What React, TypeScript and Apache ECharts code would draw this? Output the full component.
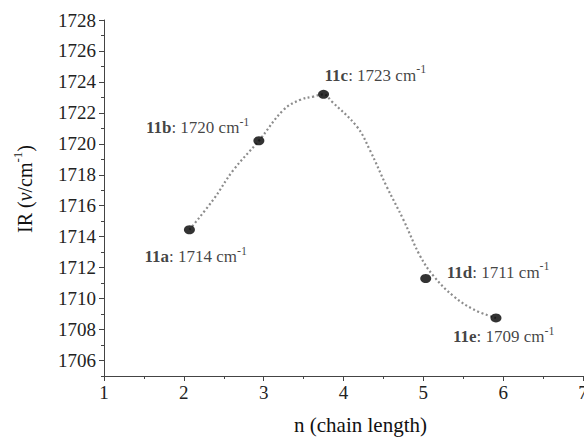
import React, { useEffect, useRef } from "react";
import * as echarts from "echarts";

// Measured compounds
const compounds = ["11a", "11b", "11c", "11d", "11e"];
const chainLength = [2.07, 2.94, 3.75, 5.03, 5.91];
const irPosition = [1714.45, 1720.2, 1723.2, 1711.3, 1708.75];
const irLabel = [1714, 1720, 1723, 1711, 1709];

// Dotted guide curve
const curveX = [2.07, 2.37, 2.62, 2.94, 3.25, 3.46, 3.62, 3.75, 3.85, 4.17, 4.33, 4.54, 4.75, 4.96, 5.13, 5.38, 5.63, 5.91];
const curveY = [1714.45, 1716.4, 1718.3, 1720.2, 1722.2, 1722.85, 1723.05, 1723.2, 1722.75, 1721.1, 1719.6, 1717.25, 1715.1, 1712.75, 1711.45, 1710.15, 1709.3, 1708.75];

// Axis ticks
const yTickLabels = [1706, 1708, 1710, 1712, 1714, 1716, 1718, 1720, 1722, 1724, 1726, 1728];

// Label placement (pixels relative to point)
const labelOffsets: [number, number][] = [
  [-45, 27],
  [-113, -13],
  [1, -19],
  [21, -6],
  [-43, 19],
];

const FONT = "Liberation Serif";

export default function App() {
  const ref = useRef<HTMLDivElement>(null);
  useEffect(() => {
    if (!ref.current) return;
    const chart = echarts.init(ref.current, undefined, { renderer: "svg" });
    const richLabel = {
      b: { fontFamily: FONT, fontSize: 17, fontWeight: "bold", color: "#111", lineHeight: 24 },
      t: { fontFamily: FONT, fontSize: 17, color: "#111", lineHeight: 24 },
      s: { fontFamily: FONT, fontSize: 12, color: "#111", lineHeight: 12, verticalAlign: "top" },
    };
    const points = compounds.map((c, i) => ({
      name: c,
      value: [chainLength[i], irPosition[i]],
      label: {
        show: true,
        position: "inside",
        align: "left",
        verticalAlign: "middle",
        offset: labelOffsets[i],
        fontFamily: FONT,
        formatter: `{b|${c}}{t|: ${irLabel[i]} cm}{s|-1}`,
        rich: richLabel,
      },
    }));
    chart.setOption({
      animation: false,
      backgroundColor: "#ffffff",
      textStyle: { fontFamily: FONT },
      grid: { left: 104, right: 1, top: 20, bottom: 61, containLabel: false, outerBoundsMode: "none" },
      xAxis: {
        type: "value",
        min: 1,
        max: 7,
        interval: 1,
        name: "n (chain length)",
        nameLocation: "middle",
        nameGap: 38,
        nameTextStyle: { fontFamily: FONT, fontSize: 21, color: "#111", padding: [0, 0, 0, 34] },
        axisLine: { show: true, lineStyle: { color: "#444", width: 1 } },
        axisTick: { show: true, inside: false, length: 5, lineStyle: { color: "#444" } },
        minorTick: { show: true, splitNumber: 2, length: 3, lineStyle: { color: "#444" } },
        axisLabel: { fontFamily: FONT, fontSize: 19, color: "#222", margin: 7, formatter: (v: number) => String(v) },
        splitLine: { show: false },
      },
      yAxis: [
        {
          type: "value",
          position: "left",
          min: 1705,
          max: 1728,
          interval: 1,
          name: "{t|IR (}{i|v}{t|/cm}{s|-1}{t|)}",
          nameLocation: "middle",
          nameGap: 65,
          nameTextStyle: {
            fontFamily: FONT,
            padding: [0, 0, 0, 18],
            rich: {
              t: { fontFamily: FONT, fontSize: 20, color: "#111", lineHeight: 28 },
              i: { fontFamily: FONT, fontSize: 20, fontStyle: "italic", color: "#111", lineHeight: 28 },
              s: { fontFamily: FONT, fontSize: 13, color: "#111", lineHeight: 13, verticalAlign: "top" },
            },
          },
          axisLine: { show: true, lineStyle: { color: "#444", width: 1 } },
          axisTick: { show: true, inside: false, length: 5, customValues: yTickLabels, lineStyle: { color: "#444" } },
          axisLabel: {
            fontFamily: FONT,
            fontSize: 19,
            color: "#222",
            margin: 8,
            customValues: yTickLabels,
            formatter: (v: number) => String(v),
          },
          splitLine: { show: false },
        },
        {
          type: "value",
          position: "left",
          offset: 0,
          min: 1705,
          max: 1728,
          interval: 1,
          axisLine: { show: false },
          axisTick: { show: true, inside: false, length: 3, lineStyle: { color: "#444" } },
          axisLabel: { show: false },
          splitLine: { show: false },
        },
      ],
      series: [
        {
          type: "line",
          yAxisIndex: 0,
          data: curveX.map((x, i) => [x, curveY[i]]),
          smooth: 0.4,
          showSymbol: false,
          silent: true,
          lineStyle: { color: "#8c8c8c", width: 2.2, type: [2, 2.5] },
          z: 1,
        },
        {
          type: "scatter",
          yAxisIndex: 0,
          symbol: "circle",
          symbolSize: [11, 9],
          itemStyle: { color: "#000" },
          data: points,
          z: 3,
        },
      ],
    });
    return () => chart.dispose();
  }, []);
  return (
    <div
      ref={ref}
      style={{ position: "fixed", left: 0, top: 0, width: 584, height: 437, background: "#fff" }}
    />
  );
}
